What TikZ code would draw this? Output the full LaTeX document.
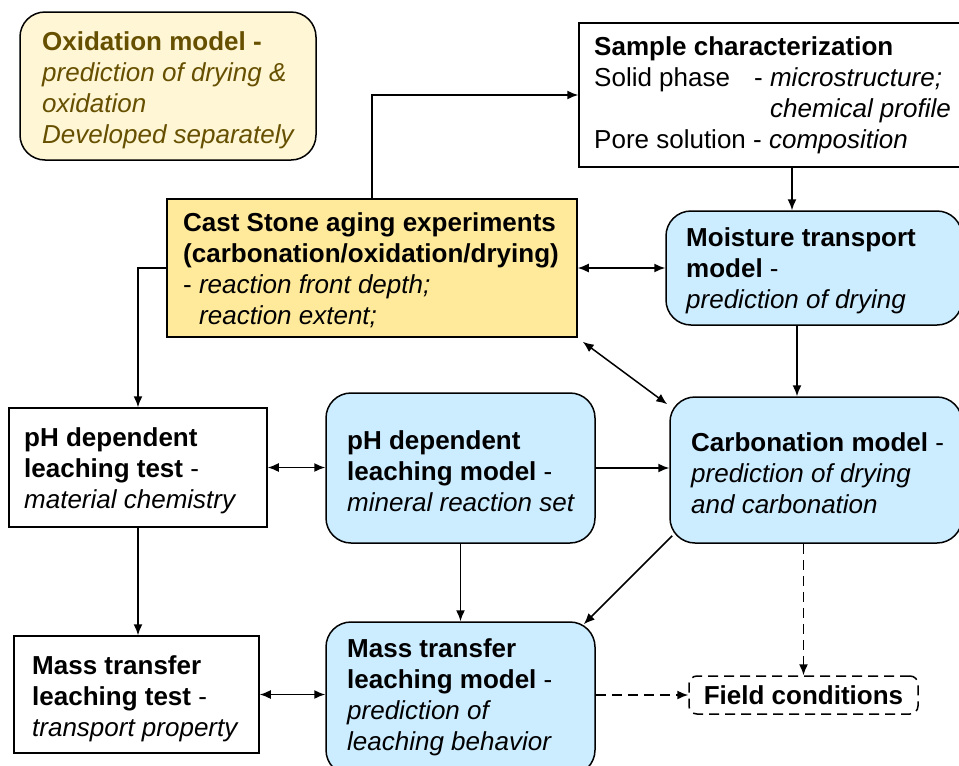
\documentclass[tikz,border=0pt]{standalone}
\usepackage{fontspec}
\setmainfont{Liberation Sans}
\usetikzlibrary{arrows.meta}
\definecolor{modelblue}{RGB}{204,236,255}
\definecolor{expgold}{RGB}{255,234,155}
\definecolor{oxfill}{RGB}{255,246,214}
\definecolor{oxtext}{RGB}{102,80,0}
\begin{document}
\begin{tikzpicture}[x=1pt,y=-1pt,
  font=\fontsize{26}{31}\selectfont,
  frame/.style={draw=black, line width=1.5pt, inner sep=0pt},
  plainbox/.style={frame, fill=white},
  expbox/.style={frame, fill=expgold},
  modelbox/.style={frame, fill=modelblue, rounded corners=25pt},
  oxbox/.style={frame, fill=oxfill, rounded corners=25pt},
  fieldbox/.style={draw=black, line width=1.5pt, dash pattern=on 10pt off 6pt, rounded corners=8pt, fill=white, inner sep=0pt},
  txt/.style={anchor=west, align=left, inner sep=0pt},
  arr/.style={line width=1.5pt, -{Latex[length=11pt,width=9pt]}},
  biarr/.style={line width=1.5pt, {Latex[length=11pt,width=9pt]}-{Latex[length=11pt,width=9pt]}},
  dasharr/.style={arr, dash pattern=on 10pt off 6pt}]
\useasboundingbox (0,0) rectangle (959,766);
\clip (0,0) rectangle (959,766);

% boxes
\node[oxbox, minimum width=296pt, minimum height=148pt] (ox) at (168,86) {};
\node[plainbox, minimum width=381pt, minimum height=144pt] (sample) at (769.5,95) {};
\node[expbox, minimum width=410pt, minimum height=138pt] (cast) at (372,268) {};
\node[modelbox, minimum width=296pt, minimum height=114pt] (moist) at (814,268) {};
\node[plainbox, minimum width=258pt, minimum height=119pt] (phtest) at (138,467.5) {};
\node[modelbox, minimum width=269pt, minimum height=150pt] (phmodel) at (460.5,468) {};
\node[modelbox, minimum width=292pt, minimum height=146pt] (carb) at (816,470) {};
\node[plainbox, minimum width=245pt, minimum height=117pt] (masstest) at (136.5,694.5) {};
\node[modelbox, minimum width=269pt, minimum height=153pt] (massmodel) at (460.5,698.5) {};
\node[fieldbox, minimum width=229pt, minimum height=38pt] (field) at (803.5,695) {};

% texts
\node[txt, text=oxtext] (ox-t) at (42,90)
  {\textbf{Oxidation model -}\\\textit{prediction of drying \&}\\\textit{oxidation}\\\textit{Developed separately}};
\node[txt] (sample-t) at (594,95)
  {\textbf{Sample characterization}\\
   \makebox[160pt][l]{Solid phase}- \textit{microstructure;}\\
   \hspace*{176pt}\textit{chemical profile}\\
   Pore solution - \textit{composition}};
\node[txt] (cast-t) at (183,270.5)
  {\textbf{Cast Stone aging experiments}\\
   \textbf{(carbonation/oxidation/drying)}\\
   - \textit{reaction front depth;}\\
   \hspace*{16pt}\textit{reaction extent;}};
\node[txt] (moist-t) at (686,271)
  {\textbf{Moisture transport}\\\textbf{model} -\\\textit{prediction of drying}};
\node[txt] (phtest-t) at (24,471)
  {\textbf{pH dependent}\\\textbf{leaching test} -\\\textit{material chemistry}};
\node[txt] (phmodel-t) at (347,471)
  {\textbf{pH dependent}\\\textbf{leaching model} -\\\textit{mineral reaction set}};
\node[txt] (carb-t) at (691,473)
  {\textbf{Carbonation model} -\\\textit{prediction of drying}\\\textit{and carbonation}};
\node[txt] (masstest-t) at (32,698.5)
  {\textbf{Mass transfer}\\\textbf{leaching test} -\\\textit{transport property}};
\node[txt] (massmodel-t) at (347,697.5)
  {\textbf{Mass transfer}\\\textbf{leaching model} -\\\textit{prediction of}\\\textit{leaching behavior}};
\node[inner sep=0pt, font=\fontsize{26}{31}\selectfont\bfseries] (field-t) at (field) {Field conditions};

% connectors
\coordinate (xs) at (792,0);
\coordinate (xm) at (797,0);
\draw[arr] (cast.north) |- (sample.west);
\draw[arr] (sample.south -| xs) -- (moist.north -| xs);
\draw[biarr] (cast.east) -- (moist.west);
\draw[arr] (cast.west) -| (phtest.north);
\draw[arr] (moist.south -| xm) -- (carb.north -| xm);
\draw[biarr] ([shift={(5,4)}]cast.south east) -- ([shift={(-2,8)}]carb.north west);
\draw[biarr] (phtest.east) -- (phtest.east -| phmodel.west);
\draw[arr] (phmodel.east) -- (phmodel.east -| carb.west);
\draw[arr] (phtest.south) -- (phtest.south |- masstest.north);
\draw[arr] (phmodel.south) -- (massmodel.north);
\draw[arr] ([shift={(3,-8)}]carb.south west) -- ([shift={(-12,3)}]massmodel.north east);
\draw[dasharr] (field.north |- carb.south) -- (field.north);
\draw[biarr] (masstest.east) -- (masstest.east -| massmodel.west);
\draw[dasharr] (massmodel.east |- field.west) -- (field.west);
\end{tikzpicture}
\end{document}
